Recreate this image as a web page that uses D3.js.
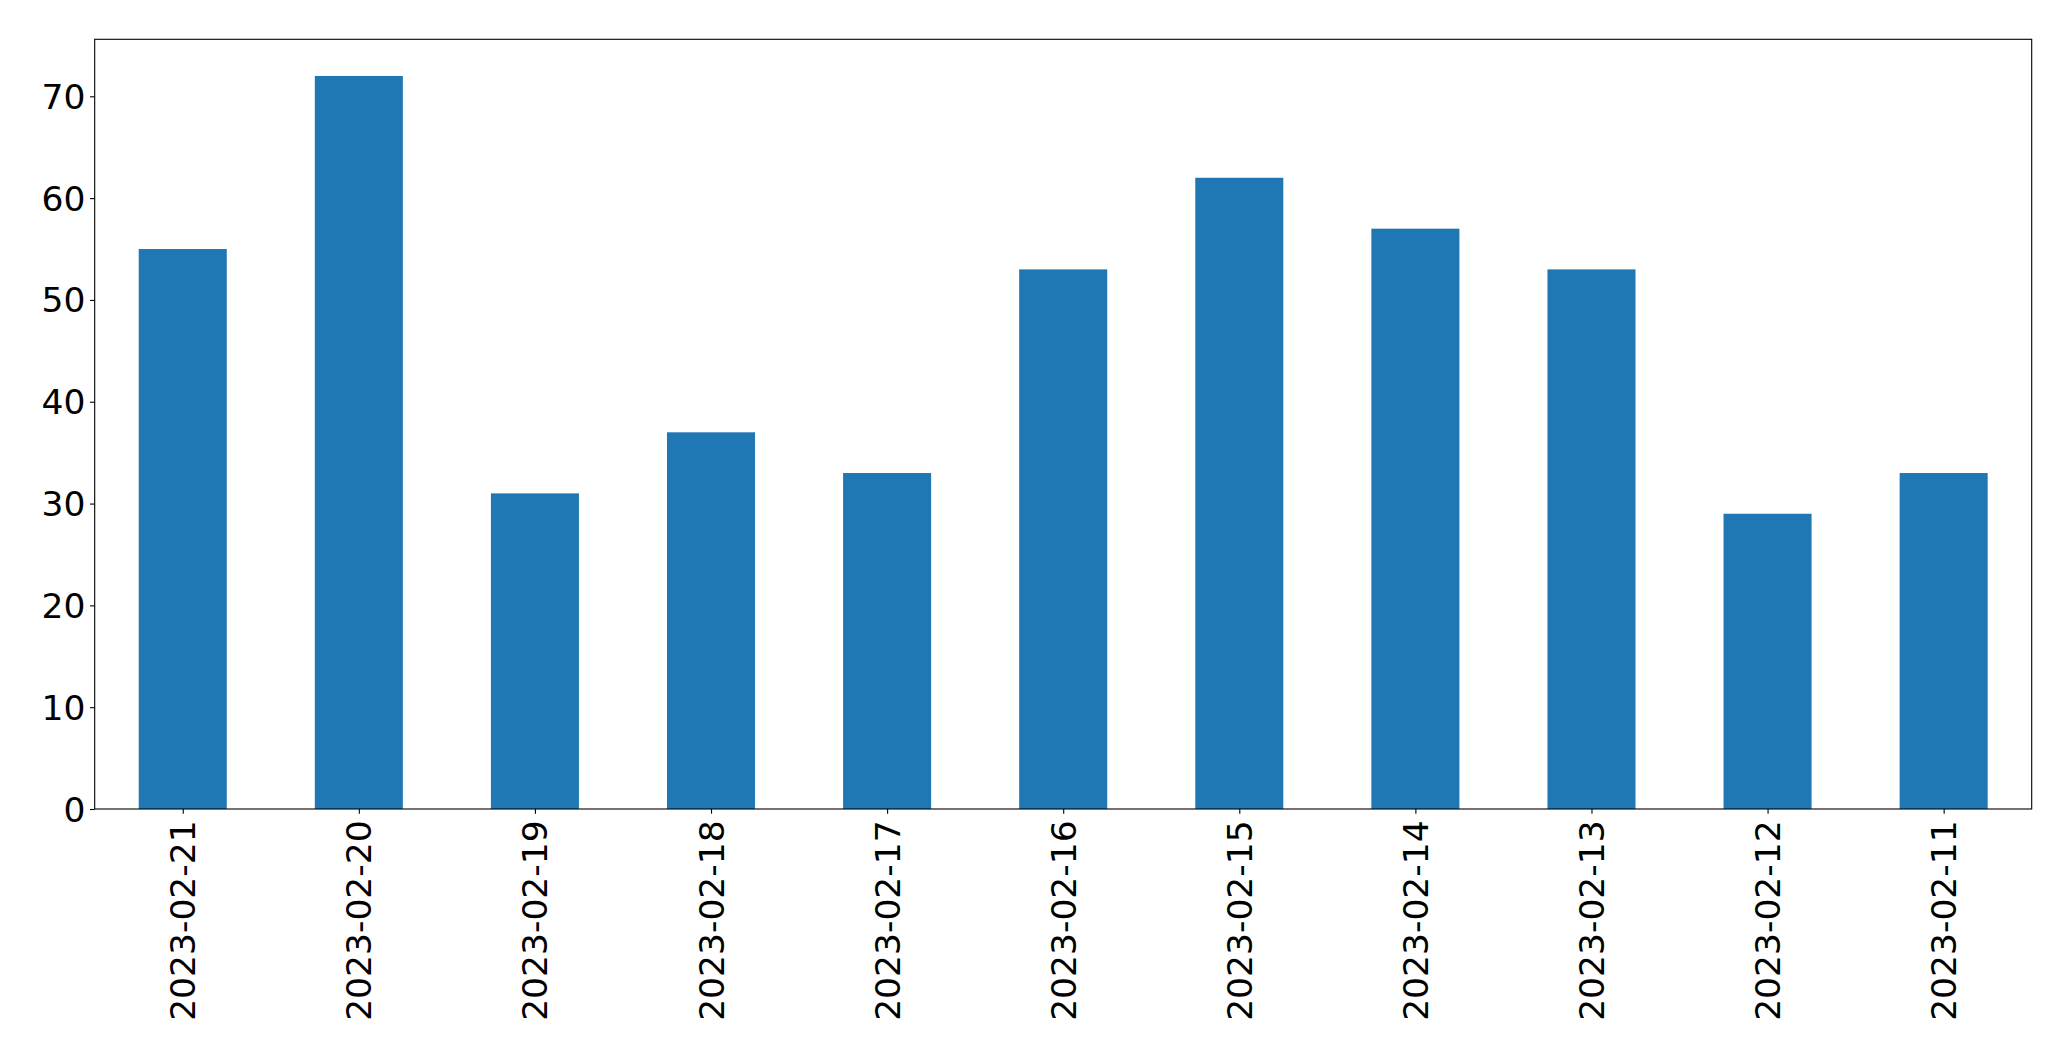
<!DOCTYPE html>
<html><head><meta charset="utf-8">
<script src="https://cdn.jsdelivr.net/npm/d3@7"></script>
<style>html,body{margin:0;padding:0;background:#fff;} svg{display:block;}</style>
</head><body>
<script>
const categories = ["2023-02-21","2023-02-20","2023-02-19","2023-02-18","2023-02-17","2023-02-16","2023-02-15","2023-02-14","2023-02-13","2023-02-12","2023-02-11"];
const values = [55, 72, 31, 37, 33, 53, 62, 57, 53, 29, 33];
const yTicks = [0, 10, 20, 30, 40, 50, 60, 70];

const W = 2071, H = 1061;
const m = {left: 94.7, right: 2031.7, top: 39.3, bottom: 809};
const svg = d3.select("body").append("svg").attr("width", W).attr("height", H);

const x = d3.scaleLinear().domain([-0.5, categories.length - 0.5]).range([m.left, m.right]);
const y = d3.scaleLinear().domain([0, d3.max(values) * 1.05]).range([m.bottom, m.top]);
const bw = x(0.5) - x(0);

svg.append("g").selectAll("rect").data(values).join("rect")
  .attr("x", (d, i) => x(i) - bw / 2)
  .attr("width", bw)
  .attr("y", d => y(d))
  .attr("height", d => y(0) - y(d))
  .attr("fill", "#1f77b4");

const font = "DejaVu Sans, sans-serif";
const fs = 34.5;
const tickLen = 4.67, pad = 4.67;

const yAxis = d3.axisLeft(y).tickValues(yTicks).tickSize(tickLen).tickPadding(pad);
const gy = svg.append("g").attr("transform", `translate(${m.left},0)`).call(yAxis);
gy.select(".domain").remove();
gy.selectAll("line").attr("stroke", "#000").attr("stroke-width", 1.1);
gy.selectAll("text").attr("font-family", font).attr("font-size", fs).attr("fill", "#000")
  .attr("dy", null).attr("dominant-baseline", "central");

const xAxis = d3.axisBottom(x).tickValues(d3.range(categories.length)).tickFormat(i => categories[i]).tickSize(tickLen).tickPadding(pad);
const gx = svg.append("g").attr("transform", `translate(0,${m.bottom})`).call(xAxis);
gx.select(".domain").remove();
gx.selectAll("line").attr("stroke", "#000").attr("stroke-width", 1.1);
gx.selectAll("text").attr("font-family", font).attr("font-size", fs).attr("fill", "#000")
  .attr("text-anchor", "end").attr("dy", null)
  .attr("dominant-baseline", "central")
  .attr("x", 0).attr("y", 0)
  .attr("transform", `translate(0,${tickLen + pad + 2}) rotate(-90)`);

svg.append("rect").attr("x", m.left).attr("y", m.top)
  .attr("width", m.right - m.left).attr("height", m.bottom - m.top)
  .attr("fill", "none").attr("stroke", "#000").attr("stroke-width", 1.1);
</script>
</body></html>
